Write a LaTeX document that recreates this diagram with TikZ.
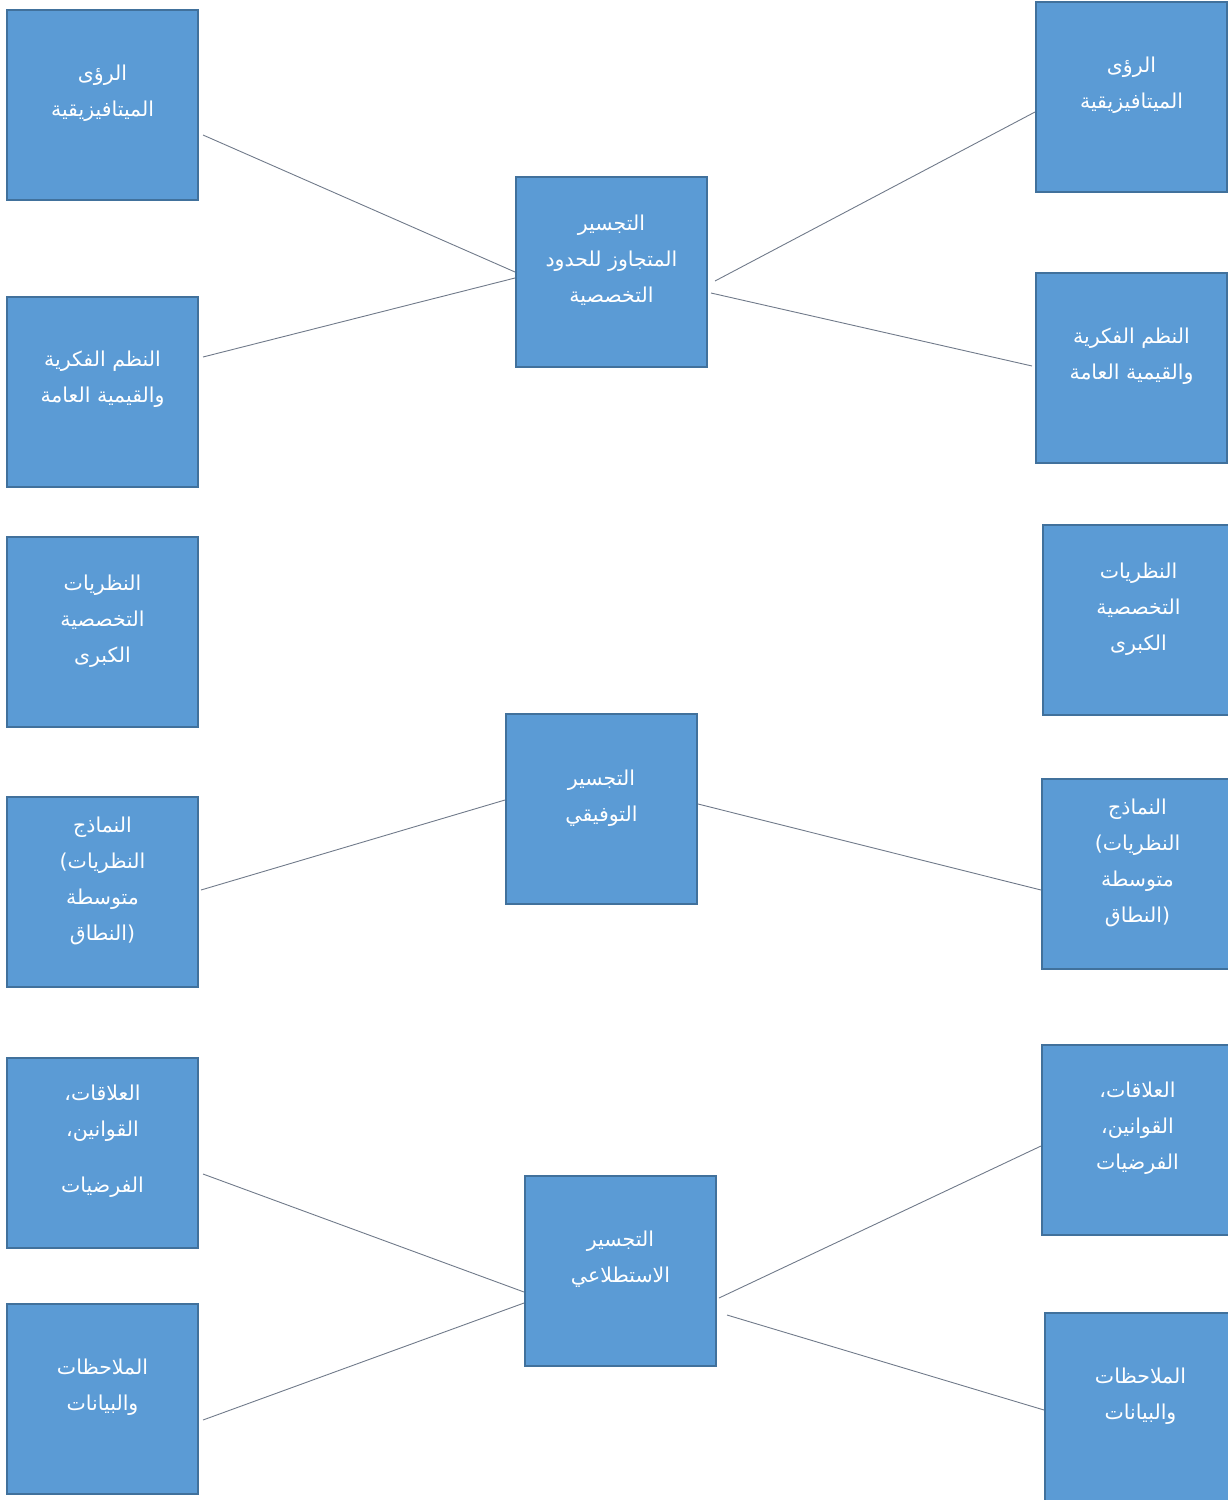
\documentclass[tikz,border=0pt]{standalone}
\usepackage{fontspec}
\newfontfamily\arabicfont[Script=Arabic]{DejaVu Sans}
\newfontfamily\latinfont{DejaVu Sans}
\TeXXeTstate=1
\definecolor{boxfill}{RGB}{91,155,213}
\definecolor{boxline}{RGB}{65,113,156}
\definecolor{conn}{RGB}{112,122,138}
\newcommand{\ar}[1]{\beginR #1\endR}
\newcommand{\lp}{\beginL{\latinfont(}\endL}
\newcommand{\rp}{\beginL{\latinfont)}\endL}
\begin{document}
\begin{tikzpicture}[x=1pt,y=-1pt,
  box/.style={rectangle,fill=boxfill,draw=boxline,line width=2pt,minimum width=191pt,minimum height=190pt,inner sep=0pt},
  txt/.style={text=white,align=center,inner sep=0pt,font=\arabicfont\fontsize{20.5}{36}\selectfont},
  link/.style={draw=conn,line width=0.9pt}]
\useasboundingbox (0,0) rectangle (1227,1500);
% left column
\node[box] (L1) at (102.5,105) {};
\node[box] (L2) at (102.5,391.5) {};
\node[box] (L3) at (102.5,632) {};
\node[box] (L4) at (102.5,892) {};
\node[box] (L5) at (102.5,1153) {};
\node[box] (L6) at (102.5,1399) {};
% centre column
\node[box] (C1) at (611.5,272) {};
\node[box] (C2) at (601.5,809) {};
\node[box] (C3) at (620.5,1271) {};
% right column
\node[box] (R1) at (1131.5,97) {};
\node[box] (R2) at (1131.5,368) {};
\node[box] (R3) at (1138.5,620) {};
\node[box] (R4) at (1137.5,874) {};
\node[box] (R5) at (1137.5,1140) {};
\node[box] (R6) at (1140.5,1408) {};
% texts
\node[txt] (tL1) at ([yshift=12pt]L1.center) {\ar{الرؤى}\\\ar{الميتافيزيقية}};
\node[txt] (tL2) at ([yshift=12pt]L2.center) {\ar{النظم الفكرية}\\\ar{والقيمية العامة}};
\node[txt] (tL3) at ([yshift=11pt]L3.center) {\ar{النظريات}\\\ar{التخصصية}\\\ar{الكبرى}};
\node[txt] (tL4) at ([yshift=11pt]L4.center) {\ar{النماذج}\\\lp\ar{النظريات}\\\ar{متوسطة}\\\ar{النطاق}\rp};
\node[txt] (tL5) at ([yshift=12pt]L5.center) {\ar{العلاقات،}\\\ar{القوانين،}\\[20pt]\ar{الفرضيات}};
\node[txt] (tL6) at ([yshift=12pt]L6.center) {\ar{الملاحظات}\\\ar{والبيانات}};
\node[txt] (tC1) at ([yshift=12pt]C1.center) {\ar{التجسير}\\\ar{المتجاوز للحدود}\\\ar{التخصصية}};
\node[txt] (tC2) at ([yshift=11pt]C2.center) {\ar{التجسير}\\\ar{التوفيقي}};
\node[txt] (tC3) at ([yshift=12pt]C3.center) {\ar{التجسير}\\\ar{الاستطلاعي}};
\node[txt] (tR1) at ([yshift=12pt]R1.center) {\ar{الرؤى}\\\ar{الميتافيزيقية}};
\node[txt] (tR2) at ([yshift=12pt]R2.center) {\ar{النظم الفكرية}\\\ar{والقيمية العامة}};
\node[txt] (tR3) at ([yshift=11pt]R3.center) {\ar{النظريات}\\\ar{التخصصية}\\\ar{الكبرى}};
\node[txt] (tR4) at ([yshift=11pt]R4.center) {\ar{النماذج}\\\lp\ar{النظريات}\\\ar{متوسطة}\\\ar{النطاق}\rp};
\node[txt] (tR5) at ([yshift=12pt]R5.center) {\ar{العلاقات،}\\\ar{القوانين،}\\\ar{الفرضيات}};
\node[txt] (tR6) at ([yshift=12pt]R6.center) {\ar{الملاحظات}\\\ar{والبيانات}};
% connectors
\draw[link] ([xshift=4pt,yshift=-30pt]L1.east) -- (C1.west);
\draw[link] ([xshift=4pt,yshift=34.5pt]L2.east) -- ([yshift=-6pt]C1.west);
\draw[link] ([xshift=7pt,yshift=-9pt]C1.east) -- ([yshift=-15pt]R1.west);
\draw[link] ([xshift=3pt,yshift=-21pt]C1.east) -- ([xshift=-3pt,yshift=2pt]R2.west);
\draw[link] ([xshift=2pt,yshift=2pt]L4.east) -- ([yshift=9pt]C2.west);
\draw[link] ([yshift=5pt]C2.east) -- ([yshift=-16pt]R4.west);
\draw[link] ([xshift=4pt,yshift=-21pt]L5.east) -- ([yshift=-21pt]C3.west);
\draw[link] ([xshift=4pt,yshift=-21pt]L6.east) -- ([yshift=-32pt]C3.west);
\draw[link] ([xshift=2pt,yshift=-27pt]C3.east) -- ([yshift=-6pt]R5.west);
\draw[link] ([xshift=10pt,yshift=-44pt]C3.east) -- ([yshift=-2pt]R6.west);
\end{tikzpicture}
\end{document}
